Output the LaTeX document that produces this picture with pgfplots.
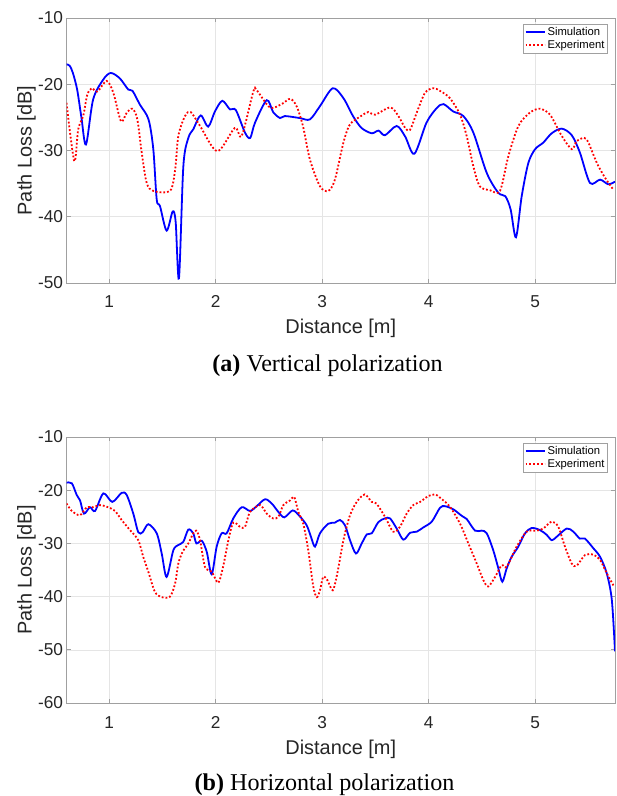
\documentclass[border=0pt]{standalone}
\usepackage{pgfplots}
\pgfplotsset{compat=1.18}
\usepackage{fontspec}
\setmainfont{Liberation Sans}
\newfontfamily\capfont{Liberation Serif}
\definecolor{simblue}{RGB}{0,0,255}
\definecolor{expred}{RGB}{255,0,0}
\definecolor{axgray}{RGB}{160,160,160}
\definecolor{txtgray}{RGB}{38,38,38}
\pgfplotsset{
  pl/.style={
    scale only axis, width=548.5bp,
    xmin=0.6, xmax=5.75,
    xtick={1,2,3,4,5}, xticklabels={1,2,3,4,5},
    grid=major, major grid style={black!10, line width=0.5bp},
    axis line style={axgray, line width=0.7bp},
    tick style={axgray, line width=0.7bp},
    tick align=inside, major tick length=4bp,
    ticklabel style={font=\fontsize{17.3}{17.3}\selectfont, text=txtgray},
    xticklabel style={anchor=base, yshift=-25bp},
    label style={font=\fontsize{20}{20}\selectfont, text=txtgray},
    xlabel={Distance [m]}, ylabel={Path Loss [dB]},
    xlabel style={at={(axis description cs:0.5,0)}, anchor=base, yshift=-51bp},
    ylabel style={at={(axis description cs:-0.0634,0.5)}, anchor=base},
    legend style={at={(0.987,0.977)}, anchor=north east,
      font=\fontsize{11.3}{11.3}\selectfont, draw=axgray,
      inner sep=1.2bp, row sep=-1.2bp, legend cell align=left},
    legend image code/.code={\draw[#1, line width=1.8bp] (0bp,0bp) -- (19bp,0bp);},
  },
  sim/.style={simblue, line width=1.8bp, smooth, tension=0.5},
  exp/.style={expred, line width=1.8bp, dash pattern=on 1.8bp off 2bp, smooth, tension=0.5},
}
\begin{document}
\begin{tikzpicture}
\path[use as bounding box] (0,0) rectangle (617bp,796bp);
% ---------- (a) ----------
\begin{axis}[pl, at={(66.5bp,513bp)}, anchor=south west, height=265bp,
  ymin=-50, ymax=-10, ytick={-50,-40,-30,-20,-10}, yticklabels={-50,-40,-30,-20,-10}]
\addplot[sim] coordinates {
(0.60,-17.0) (0.63,-17.2) (0.66,-18.3) (0.70,-20.8) (0.74,-25.0) (0.783,-29.1) (0.85,-22.3) (0.945,-19.3) (1.015,-18.3) (1.10,-19.1) (1.18,-20.8) (1.22,-21.0) (1.29,-23.1) (1.37,-25.3) (1.415,-29.8) (1.447,-37.4) (1.478,-38.4) (1.54,-42.1) (1.597,-39.2) (1.625,-40.8) (1.656,-49.3) (1.697,-32.4) (1.744,-28.1) (1.79,-26.8) (1.86,-24.7) (1.93,-26.4) (1.994,-24.1) (2.063,-22.5) (2.135,-23.8) (2.19,-23.9) (2.276,-27.3) (2.325,-28.1) (2.37,-25.8) (2.48,-22.4) (2.54,-24.2) (2.605,-25.1) (2.65,-24.8) (2.79,-25.1) (2.886,-25.3) (2.98,-23.3) (3.10,-20.6) (3.20,-22.1) (3.29,-24.8) (3.37,-26.6) (3.466,-27.4) (3.53,-27.0) (3.59,-27.7) (3.70,-26.3) (3.78,-27.9) (3.866,-30.5) (3.98,-25.8) (4.076,-23.6) (4.14,-23.0) (4.23,-24.1) (4.326,-24.8) (4.42,-27.3) (4.546,-33.4) (4.655,-36.4) (4.72,-36.9) (4.77,-38.9) (4.82,-43.1) (4.874,-36.9) (4.936,-31.9) (5.0,-29.8) (5.077,-28.8) (5.156,-27.4) (5.25,-26.7) (5.344,-27.7) (5.42,-30.3) (5.515,-34.9) (5.61,-34.4) (5.687,-35.1) (5.75,-34.7)
};
\addlegendentry{Simulation}
\addplot[exp] coordinates {
(0.60,-22.8) (0.673,-31.6) (0.71,-26.8) (0.758,-24.7) (0.795,-21.6) (0.837,-20.6) (0.89,-21.1) (0.977,-19.5) (1.04,-21.3) (1.112,-25.6) (1.165,-24.3) (1.22,-23.7) (1.265,-25.3) (1.306,-30.3) (1.353,-34.9) (1.415,-36.1) (1.572,-36.1) (1.62,-32.9) (1.65,-27.8) (1.713,-24.8) (1.766,-24.2) (1.854,-26.3) (2.016,-30.1) (2.18,-26.6) (2.245,-27.8) (2.354,-21.1) (2.386,-20.9) (2.51,-23.5) (2.62,-23.0) (2.70,-22.2) (2.76,-23.3) (2.82,-26.3) (2.886,-31.4) (2.98,-35.4) (3.058,-36.1) (3.12,-34.4) (3.20,-28.8) (3.26,-26.1) (3.356,-24.9) (3.434,-24.2) (3.497,-24.6) (3.64,-23.5) (3.716,-24.8) (3.78,-26.6) (3.825,-26.9) (3.888,-24.3) (3.966,-21.3) (4.044,-20.6) (4.107,-21.0) (4.2,-22.1) (4.295,-24.6) (4.357,-27.8) (4.42,-32.4) (4.48,-35.4) (4.577,-36.0) (4.67,-36.1) (4.748,-30.9) (4.843,-26.3) (4.95,-24.3) (5.044,-23.7) (5.14,-24.6) (5.25,-27.8) (5.344,-29.8) (5.39,-28.6) (5.46,-28.1) (5.50,-28.8) (5.58,-31.9) (5.656,-34.1) (5.734,-35.9)
};
\addlegendentry{Experiment}
\end{axis}
\node[anchor=base, font=\capfont\fontsize{24.2}{24.2}\selectfont] at (327.5bp,424bp) {\textbf{(a)} Vertical polarization};
% ---------- (b) ----------
\begin{axis}[pl, at={(66.5bp,93bp)}, anchor=south west, height=266bp,
  ymin=-60, ymax=-10, ytick={-60,-50,-40,-30,-20,-10}, yticklabels={-60,-50,-40,-30,-20,-10}]
\addplot[sim] coordinates {
(0.60,-18.6) (0.65,-18.7) (0.696,-20.9) (0.727,-21.9) (0.764,-24.4) (0.82,-23.2) (0.868,-23.9) (0.946,-20.6) (1.03,-22.2) (1.118,-20.5) (1.165,-20.9) (1.227,-24.4) (1.274,-27.9) (1.315,-27.9) (1.368,-26.4) (1.447,-28.1) (1.494,-31.9) (1.54,-36.3) (1.603,-31.3) (1.65,-30.3) (1.697,-29.7) (1.744,-27.4) (1.79,-28.1) (1.82,-30.0) (1.87,-29.5) (1.917,-31.6) (1.963,-35.8) (2.01,-30.6) (2.057,-28.1) (2.104,-28.1) (2.166,-25.3) (2.245,-23.2) (2.323,-23.9) (2.386,-23.0) (2.464,-21.7) (2.527,-22.5) (2.59,-24.1) (2.645,-25.1) (2.724,-23.8) (2.79,-24.9) (2.855,-26.6) (2.896,-28.8) (2.933,-30.6) (2.98,-28.1) (3.058,-26.3) (3.12,-26.1) (3.168,-25.6) (3.215,-26.6) (3.262,-29.4) (3.318,-31.9) (3.372,-30.0) (3.42,-28.3) (3.466,-28.1) (3.528,-26.0) (3.59,-25.3) (3.638,-25.3) (3.70,-27.2) (3.763,-29.3) (3.826,-28.0) (3.888,-27.8) (3.95,-27.0) (4.03,-25.9) (4.107,-23.3) (4.154,-23.0) (4.232,-23.6) (4.31,-24.8) (4.357,-25.4) (4.436,-27.6) (4.498,-27.6) (4.546,-28.1) (4.607,-31.3) (4.655,-34.7) (4.692,-37.2) (4.733,-34.7) (4.78,-32.5) (4.842,-30.6) (4.905,-28.1) (4.968,-27.1) (5.046,-27.5) (5.109,-28.4) (5.156,-29.4) (5.20,-28.8) (5.297,-27.2) (5.359,-27.8) (5.42,-29.1) (5.468,-29.1) (5.546,-30.9) (5.609,-32.5) (5.672,-35.6) (5.72,-40.6) (5.75,-50.3)
};
\addlegendentry{Simulation}
\addplot[exp] coordinates {
(0.60,-22.5) (0.65,-23.9) (0.727,-24.7) (0.79,-23.2) (0.85,-23.2) (0.915,-22.8) (0.99,-23.2) (1.055,-23.9) (1.118,-25.6) (1.196,-27.5) (1.274,-29.4) (1.32,-32.5) (1.368,-35.3) (1.43,-39.1) (1.494,-40.1) (1.572,-40.0) (1.62,-37.5) (1.65,-33.8) (1.69,-31.6) (1.744,-30.0) (1.79,-28.1) (1.82,-27.6) (1.854,-29.4) (1.90,-34.4) (1.963,-35.3) (2.025,-37.4) (2.07,-34.4) (2.12,-29.4) (2.166,-26.1) (2.23,-26.9) (2.276,-26.9) (2.323,-24.1) (2.417,-22.8) (2.48,-24.4) (2.54,-25.3) (2.59,-25.0) (2.636,-22.8) (2.70,-21.9) (2.739,-21.3) (2.777,-24.1) (2.823,-26.3) (2.87,-31.3) (2.917,-38.1) (2.95,-40.1) (2.98,-38.8) (3.01,-36.3) (3.049,-36.9) (3.10,-38.8) (3.143,-35.6) (3.20,-29.4) (3.262,-24.7) (3.325,-22.2) (3.40,-20.8) (3.466,-22.2) (3.51,-22.5) (3.59,-25.0) (3.668,-27.8) (3.73,-26.9) (3.794,-24.4) (3.856,-22.8) (3.92,-22.2) (3.997,-21.1) (4.06,-20.8) (4.107,-21.4) (4.20,-23.1) (4.295,-26.3) (4.373,-30.0) (4.452,-33.8) (4.514,-36.9) (4.56,-38.1) (4.624,-36.3) (4.686,-34.1) (4.733,-34.4) (4.827,-30.6) (4.921,-27.8) (5.015,-27.6) (5.077,-27.2) (5.156,-25.9) (5.218,-26.9) (5.28,-30.6) (5.344,-33.8) (5.39,-34.2) (5.468,-32.2) (5.546,-32.1) (5.61,-33.1) (5.672,-35.6) (5.735,-37.9)
};
\addlegendentry{Experiment}
\end{axis}
\node[anchor=base, font=\capfont\fontsize{24.2}{24.2}\selectfont] at (324.5bp,6bp) {\textbf{(b)} Horizontal polarization};
\end{tikzpicture}
\end{document}
